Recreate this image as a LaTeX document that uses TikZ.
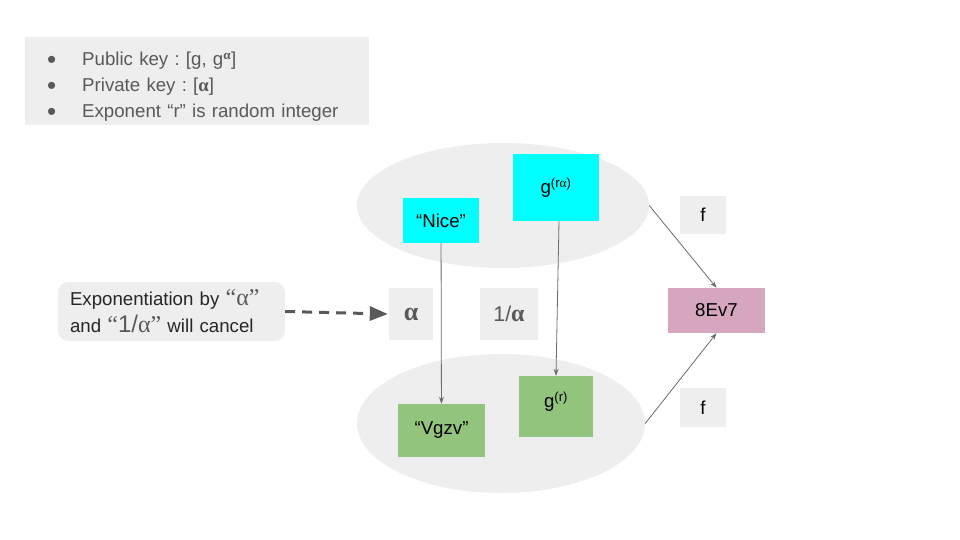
\documentclass[tikz,border=0pt]{standalone}
\usepackage{fontspec}
\setmainfont{Liberation Sans}
\newfontfamily\greekfont{Liberation Serif}
\usetikzlibrary{arrows.meta,shapes.geometric}
\definecolor{panel}{HTML}{EEEEEE}
\definecolor{textgray}{HTML}{595959}
\definecolor{linegray}{HTML}{6B6B6B}
\definecolor{plaincyan}{HTML}{00FFFF}
\definecolor{plaingreen}{HTML}{93C47D}
\definecolor{plainpink}{HTML}{D5A6BD}
\frenchspacing
\newcommand{\galpha}{{\greekfont α}}
\newcommand{\balpha}{{\greekfont\bfseries α}}
\newcommand{\dotmark}{\makebox[35pt][l]{\raisebox{-2.5pt}{\fontsize{26}{26}\selectfont\textbullet}}}
\newcommand{\bigquote}[1]{{\fontsize{24}{24}\selectfont\color{textgray}{\greekfont“}#1{\greekfont”}}}
\begin{document}
\begin{tikzpicture}[
x=1pt, y=-1pt,
every node/.style={font=\fontsize{18.67}{22}\selectfont, inner sep=0pt},
cloud/.style={ellipse, fill=panel},
cell/.style={fill=panel, minimum height=52},
link/.style={draw=linegray, line width=0.8pt, -{Stealth[length=7pt,width=5pt]}}
]
\useasboundingbox (0,0) rectangle (960,540);

% legend
\node[fill=panel, anchor=north west, text width=300, inner xsep=22, minimum height=88,
  align=left, text=textgray, font=\fontsize{18.67}{26}\selectfont] (legend) at (25,37)
  {\rule{0pt}{25pt}\dotmark Public key : [g, g\textsuperscript{\balpha}]\\
   \dotmark Private key : [\balpha]\\
   \dotmark Exponent “r” is random integer};

% the two clouds
\node[cloud, minimum width=292, minimum height=125] (top) at (503,205.5) {};
\node[cloud, minimum width=288, minimum height=139] (bottom) at (501,423.5) {};

% plaintext side
\node[fill=plaincyan, minimum width=76, minimum height=45] (nice) at (441,220.5) {“Nice”};
\node[fill=plaincyan, minimum width=86, minimum height=67] (gra) at (556,187.5) {g\textsuperscript{(r\galpha)}};
\node[fill=plaingreen, minimum width=87, minimum height=53] (vgzv) at (441.5,430.5) {“Vgzv”};
\node[fill=plaingreen, minimum width=74, minimum height=61, text depth=14pt] (gr) at (556,406.5) {g\textsuperscript{(r)}};

% exponents
\node[cell, minimum width=44, text=textgray, font=\fontsize{26}{26}\selectfont\greekfont\bfseries] (alpha) at (411,314) {α};
\node[cell, minimum width=58, text=textgray, font=\fontsize{21.33}{24}\selectfont] (inv) at (509,314) {1/{\fontsize{24}{24}\selectfont\balpha}};

% pairing
\node[fill=panel, minimum width=46, minimum height=38] (ftop) at (703,215) {f};
\node[fill=panel, minimum width=46, minimum height=39] (fbot) at (703,407.5) {f};
\node[fill=plainpink, minimum width=97, minimum height=45] (key) at (716.5,310.5) {8Ev7};

% callout
\node[fill=panel, rounded corners=10pt, minimum width=227, minimum height=59, text width=203,
  inner xsep=12, align=left, text=black!85, font=\fontsize{18.67}{27}\selectfont] (note) at (171.5,311.5)
  {Exponentiation by \bigquote{\galpha}\\ and \bigquote{1/\galpha} will cancel};

\draw[link] (nice) -- (vgzv);
\draw[link] ([xshift=3pt]gra.south) -- (gr.north);
\draw[link] (top.east) -- (key.north);
\draw[link] (bottom.east) -- (key.south);
\draw[draw=textgray, line width=3pt, dash pattern=on 10pt off 7pt,
  -{Triangle[length=18pt,width=14pt]}] (note.east) -- ([xshift=-1pt]alpha.west);
\end{tikzpicture}
\end{document}
